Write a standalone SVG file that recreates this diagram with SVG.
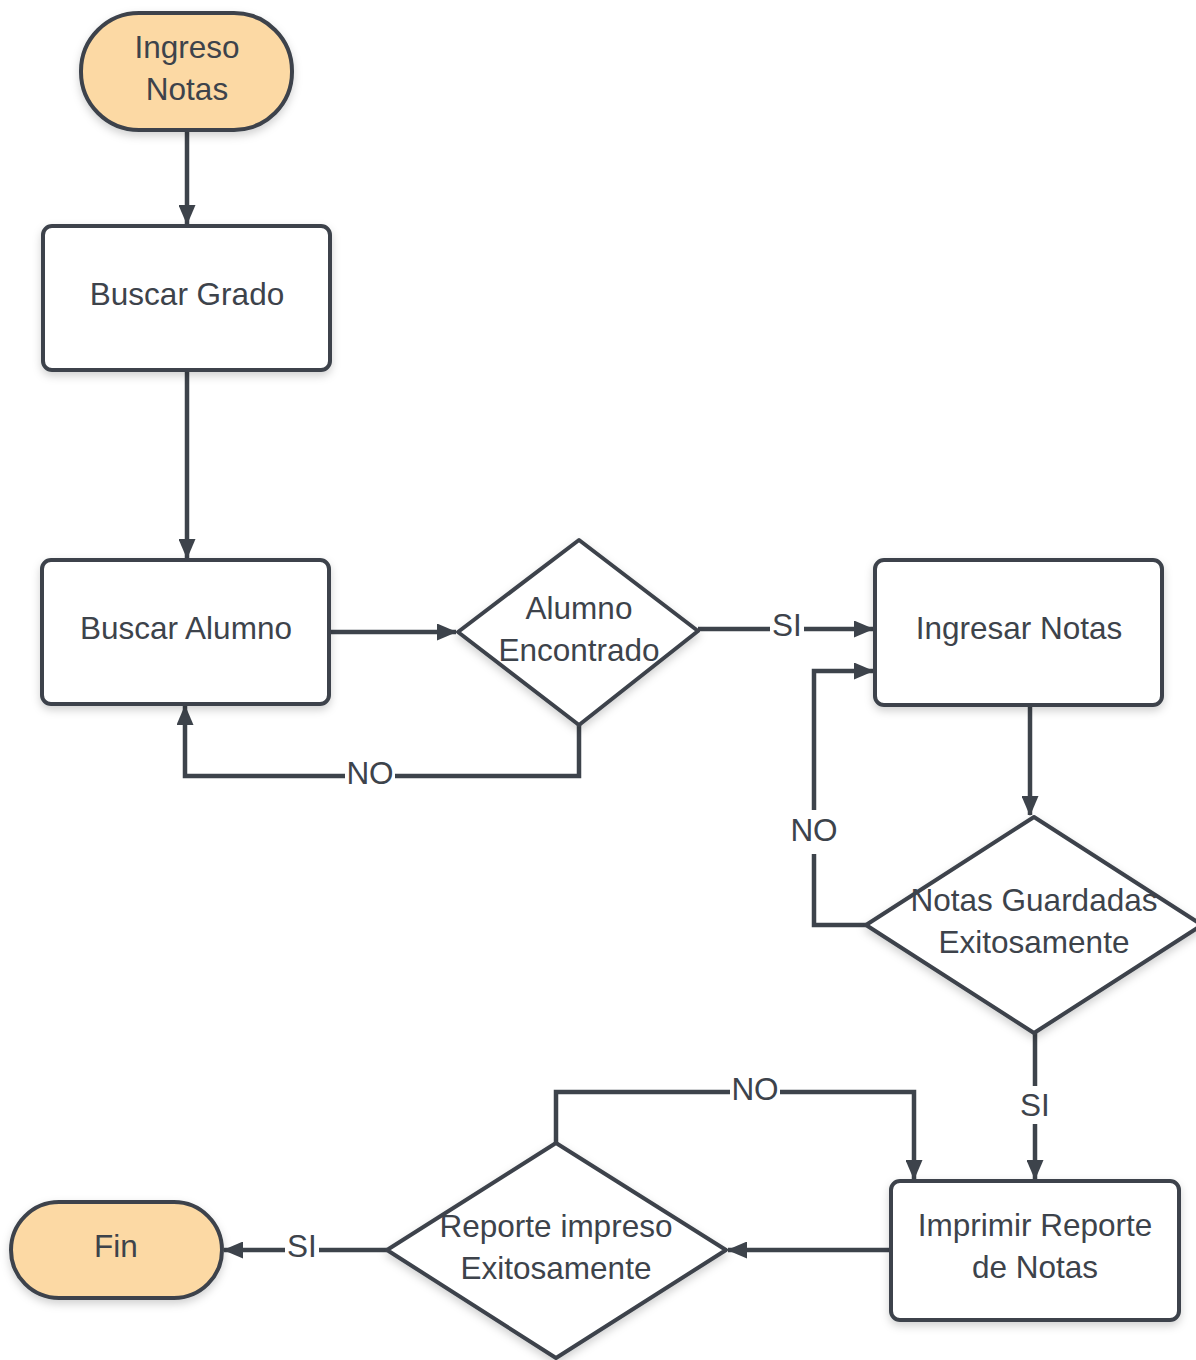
<svg xmlns="http://www.w3.org/2000/svg" width="1196" height="1360" viewBox="0 0 1196 1360">
<defs>
<filter id="sh" x="-20%" y="-20%" width="140%" height="150%">
<feDropShadow dx="0" dy="4" stdDeviation="4" flood-color="#000" flood-opacity="0.18"/>
</filter>
<marker id="ar" viewBox="0 0 20 17" refX="19" refY="8.5" markerWidth="20" markerHeight="17" markerUnits="userSpaceOnUse" orient="auto">
<path d="M0,0 L20,8.5 L0,17 Z" fill="#3d434b"/>
</marker>
</defs>
<style>
.box{fill:#fff;stroke:#3d434b;stroke-width:4;filter:url(#sh)}
.term{fill:#fcd9a4;stroke:#3d434b;stroke-width:4;filter:url(#sh)}
.dia{fill:#fff;stroke:#3d434b;stroke-width:4;stroke-linejoin:round;filter:url(#sh)}
.t{font-family:"Liberation Sans",Arial,sans-serif;font-size:31.5px;fill:#3d434b;text-anchor:middle}
.c{fill:none;stroke:#3d434b;stroke-width:4.5}
.lb{fill:#fff}
</style>
<rect width="1196" height="1360" fill="#fff"/>
<g id="connectors">
<path class="c" d="M187,130 V224" marker-end="url(#ar)"/>
<path class="c" d="M187,370 V558" marker-end="url(#ar)"/>
<path class="c" d="M329,632 H456" marker-end="url(#ar)"/>
<path class="c" d="M579,725 V776 H185 V706" marker-end="url(#ar)"/>
<path class="c" d="M698,629 H873" marker-end="url(#ar)"/>
<path class="c" d="M1030,705 V815" marker-end="url(#ar)"/>
<path class="c" d="M866,925 H814 V671 H873" marker-end="url(#ar)"/>
<path class="c" d="M1035,1033 V1179" marker-end="url(#ar)"/>
<path class="c" d="M891,1250 H728" marker-end="url(#ar)"/>
<path class="c" d="M556,1143 V1092 H914 V1179" marker-end="url(#ar)"/>
<path class="c" d="M387,1250 H224" marker-end="url(#ar)"/>
<rect class="lb" x="345" y="759" width="50" height="32"/>
<text class="t" x="370" y="784">NO</text>
<rect class="lb" x="770" y="611" width="34" height="32"/>
<text class="t" x="787" y="636">SI</text>
<rect class="lb" x="789" y="810" width="50" height="44"/>
<text class="t" x="814" y="841">NO</text>
<rect class="lb" x="1018" y="1086" width="34" height="38"/>
<text class="t" x="1035" y="1116">SI</text>
<rect class="lb" x="730" y="1074" width="50" height="32"/>
<text class="t" x="755" y="1100">NO</text>
<rect class="lb" x="285" y="1232" width="34" height="32"/>
<text class="t" x="302" y="1257">SI</text>
</g>
<g id="n_inicio">
<rect class="term" x="81" y="13" width="211" height="117" rx="58" ry="58"/>
<text class="t" x="187" y="58">Ingreso</text>
<text class="t" x="187" y="100">Notas</text>
</g>
<g id="n_buscar_grado">
<rect class="box" x="43" y="226" width="287" height="144" rx="9"/>
<text class="t" x="187" y="305">Buscar Grado</text>
</g>
<g id="n_buscar_alumno">
<rect class="box" x="42" y="560" width="287" height="144" rx="9"/>
<text class="t" x="186" y="639">Buscar Alumno</text>
</g>
<g id="n_alumno_encontrado">
<path class="dia" d="M579,540 L698,631 L579,725 L458,632 Z"/>
<text class="t" x="579" y="619">Alumno</text>
<text class="t" x="579" y="661">Encontrado</text>
</g>
<g id="n_ingresar_notas">
<rect class="box" x="875" y="560" width="287" height="145" rx="9"/>
<text class="t" x="1019" y="639">Ingresar Notas</text>
</g>
<g id="n_notas_guardadas">
<path class="dia" d="M1034,817 L1202,925 L1034,1033 L866,925 Z"/>
<text class="t" x="1034" y="911">Notas Guardadas</text>
<text class="t" x="1034" y="953">Exitosamente</text>
</g>
<g id="n_imprimir">
<rect class="box" x="891" y="1181" width="288" height="139" rx="9"/>
<text class="t" x="1035" y="1236">Imprimir Reporte</text>
<text class="t" x="1035" y="1278">de Notas</text>
</g>
<g id="n_reporte_impreso">
<path class="dia" d="M556,1143 L726,1250 L556,1358 L387,1250 Z"/>
<text class="t" x="556" y="1237">Reporte impreso</text>
<text class="t" x="556" y="1279">Exitosamente</text>
</g>
<g id="n_fin">
<rect class="term" x="11" y="1202" width="211" height="96" rx="48" ry="48"/>
<text class="t" x="116" y="1257">Fin</text>
</g>
</svg>
